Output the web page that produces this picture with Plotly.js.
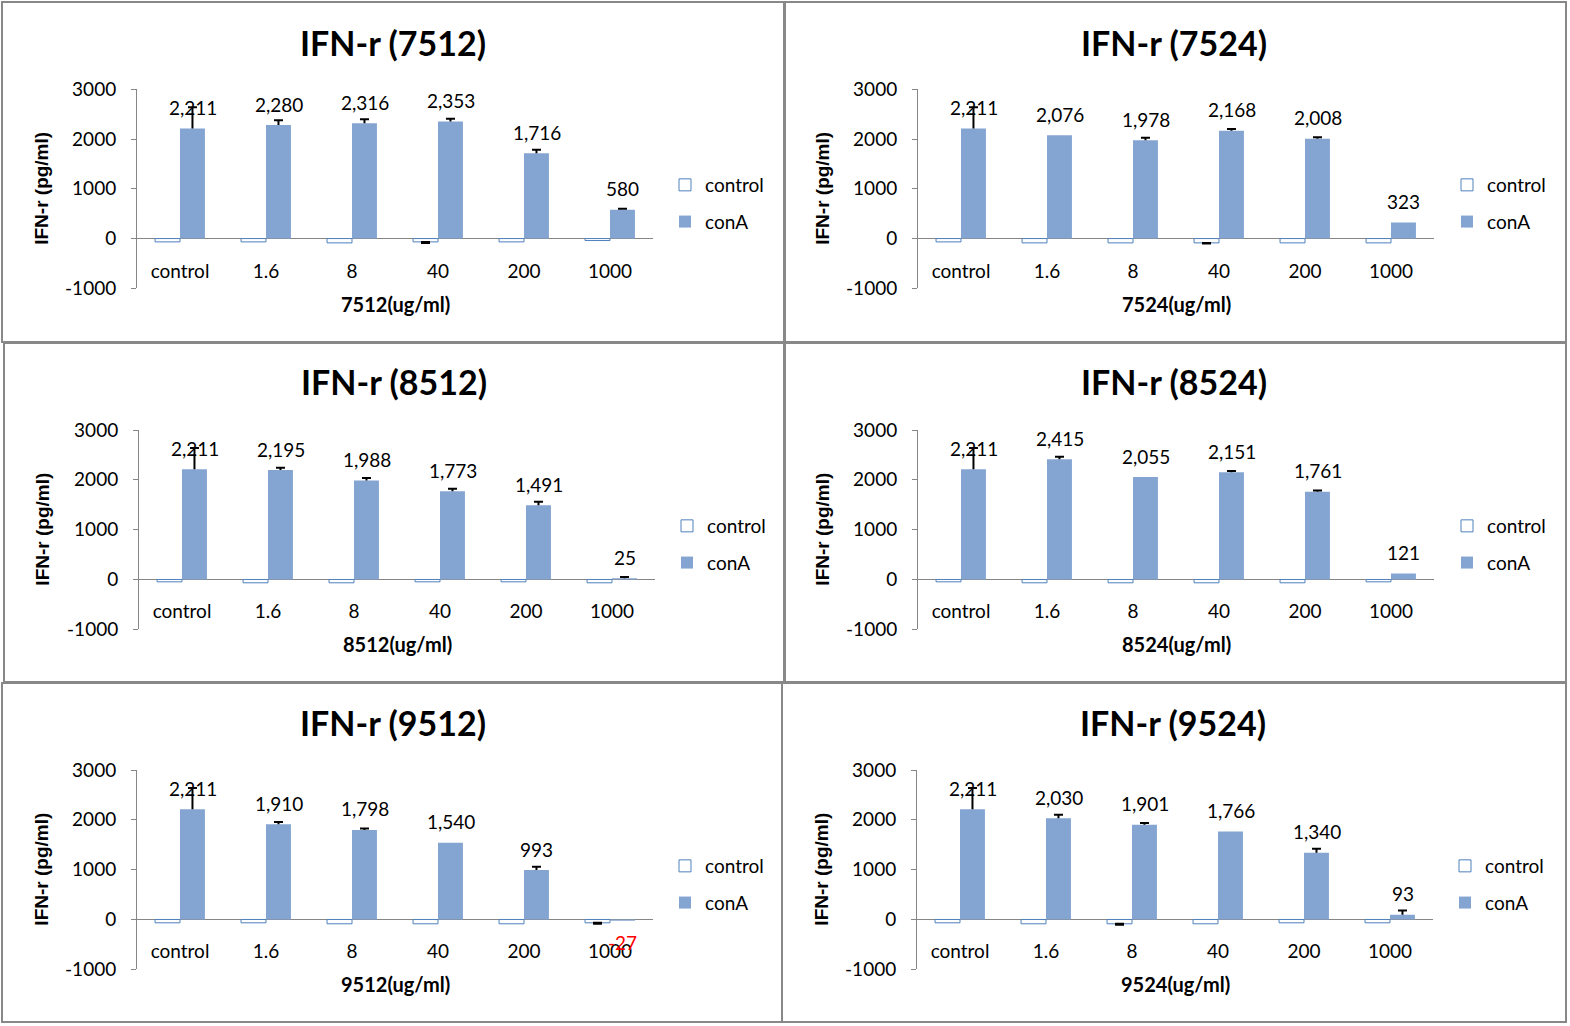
<!DOCTYPE html>
<html>
<head>
<meta charset="utf-8">
<script src="https://cdn.plot.ly/plotly-3.0.1.min.js"></script>
<style>
  html, body { margin: 0; padding: 0; background: #fff; }
  #chart { width: 1570px; height: 1026px; }
</style>
</head>
<body>
<div id="chart"></div>
<script>
// ---------------- DATA ----------------
const categories = ['control', '1.6', '8', '40', '200', '1000'];
const seriesNames = ['control', 'conA'];

const ctrl7512 = [-67, -67, -87, -67, -67, -40];
const ctrlErr7512 = [null, null, null, 20, null, null];
const conA7512 = [2211, 2280, 2316, 2353, 1716, 580];
const conAErr7512 = [427, 96, 80, 57, 68, 18];

const ctrl7524 = [-67, -87, -87, -87, -87, -87];
const ctrlErr7524 = [null, null, null, 15, null, null];
const conA7524 = [2211, 2076, 1978, 2168, 2008, 323];
const conAErr7524 = [427, null, 47, 33, 27, null];

const ctrl8512 = [-47, -67, -67, -47, -47, -67];
const ctrlErr8512 = [null, null, null, null, null, null];
const conA8512 = [2211, 2195, 1988, 1773, 1491, 25];
const conAErr8512 = [427, 47, 47, 47, 67, 27];

const ctrl8524 = [-47, -67, -67, -67, -67, -47];
const ctrlErr8524 = [null, null, null, null, null, null];
const conA8524 = [2211, 2415, 2055, 2151, 1761, 121];
const conAErr8524 = [427, 47, null, 27, 27, null];

const ctrl9512 = [-67, -67, -87, -87, -87, -67];
const ctrlErr9512 = [null, null, null, null, null, 20];
const conA9512 = [2211, 1910, 1798, 1540, 993, -27];
const conAErr9512 = [427, 47, 27, null, 67, null];

const ctrl9524 = [-67, -87, -87, -87, -67, -67];
const ctrlErr9524 = [null, null, 20, null, null, null];
const conA9524 = [2211, 2030, 1901, 1766, 1340, 93];
const conAErr9524 = [427, 73, 33, null, 80, 87];

const yTickVals = [-1000, 0, 1000, 2000, 3000];
const yTickText = ['-1000', '0', '1000', '2000', '3000'];

// ---------------- LAYOUT CONFIG ----------------
const W = 1570, H = 1026;
const px = p => p / W;
const py = p => 1 - p / H;

const FONT = 'Lato, Carlito, "Open Sans", sans-serif';
const BLUE_FILL = '#84A5D2';
const BLUE_LINE = '#4F81BD';
const GRAY = '#868686';

const panels = [
  { id: '7512', ctrl: ctrl7512, ctrlErr: ctrlErr7512, conA: conA7512, conAErr: conAErr7512,
    box: [2, 2, 784, 342], plotX: [137, 653], plotY: [89.3, 288.3], title: [393, 42], ytitleX: 42, xtitleY: 304, labelY: 272, legend: [665, 166] },
  { id: '7524', ctrl: ctrl7524, ctrlErr: ctrlErr7524, conA: conA7524, conAErr: conAErr7524,
    box: [785, 2, 1566, 342], plotX: [918, 1434], plotY: [89.3, 288.3], title: [1174, 42], ytitleX: 823, xtitleY: 304, labelY: 272, legend: [1447, 166] },
  { id: '8512', ctrl: ctrl8512, ctrlErr: ctrlErr8512, conA: conA8512, conAErr: conAErr8512,
    box: [4, 343, 784, 682], plotX: [139, 655], plotY: [430, 629.3], title: [394, 382], ytitleX: 43, xtitleY: 644, labelY: 612, legend: [667, 507] },
  { id: '8524', ctrl: ctrl8524, ctrlErr: ctrlErr8524, conA: conA8524, conAErr: conAErr8524,
    box: [785, 343, 1566, 682], plotX: [918, 1434], plotY: [430, 629.3], title: [1174, 382], ytitleX: 823, xtitleY: 644, labelY: 612, legend: [1447, 507] },
  { id: '9512', ctrl: ctrl9512, ctrlErr: ctrlErr9512, conA: conA9512, conAErr: conAErr9512,
    box: [2, 683, 782, 1022], plotX: [137, 653], plotY: [770, 969.3], title: [393, 722], ytitleX: 42, xtitleY: 984, labelY: 952, legend: [665, 847] },
  { id: '9524', ctrl: ctrl9524, ctrlErr: ctrlErr9524, conA: conA9524, conAErr: conAErr9524,
    box: [782, 683, 1566, 1022], plotX: [917, 1433], plotY: [770, 969.3], title: [1173, 722], ytitleX: 822, xtitleY: 984, labelY: 952, legend: [1445, 847] }
];

const toErr = arr => arr.map(v => (v === null ? NaN : v));
const fmt = v => (v < 0 ? '-' : '') + Math.abs(v).toString().replace(/\B(?=(\d{3})+(?!\d))/g, ',');

const traces = [];
const layout = {
  width: W, height: H,
  margin: { l: 0, r: 0, t: 0, b: 0, pad: 0 },
  paper_bgcolor: '#ffffff',
  plot_bgcolor: 'rgba(0,0,0,0)',
  barmode: 'group',
  bargap: 0.42,
  bargroupgap: 0,
  font: { family: FONT, size: 19, color: '#000' },
  shapes: [],
  annotations: []
};

panels.forEach((p, i) => {
  const n = i + 1;
  const sfx = n === 1 ? '' : String(n);
  const xa = 'x' + sfx, ya = 'y' + sfx;
  const lg = 'legend' + sfx;

  traces.push({
    type: 'bar', name: seriesNames[0], x: categories, y: p.ctrl,
    xaxis: xa, yaxis: ya, legend: lg, legendgroup: 'c' + n,
    marker: { color: '#ffffff', line: { color: BLUE_LINE, width: 1 } },
    error_y: { type: 'data', symmetric: false, array: p.ctrlErr.map(v => (v === null ? NaN : 0)), arrayminus: toErr(p.ctrlErr),
               color: '#000', thickness: 2, width: 4.5 },
    hoverinfo: 'skip'
  });
  traces.push({
    type: 'bar', name: seriesNames[1], x: categories, y: p.conA,
    xaxis: xa, yaxis: ya, legend: lg, legendgroup: 'a' + n,
    marker: { color: BLUE_FILL, line: { width: 0 } },
    error_y: { type: 'data', symmetric: false, array: toErr(p.conAErr),
               color: '#000', thickness: 2, width: 4.5 },
    hoverinfo: 'skip'
  });

  layout['xaxis' + sfx] = {
    domain: [px(p.plotX[0]), px(p.plotX[1])],
    type: 'category', range: [-0.5, 5.5],
    anchor: 'free', position: py(p.labelY - 14),
    showline: false, ticks: '', showgrid: false, zeroline: false,
    tickfont: { family: FONT, size: 19, color: '#000' },
    fixedrange: true
  };
  layout['yaxis' + sfx] = {
    domain: [py(p.plotY[1]), py(p.plotY[0])],
    anchor: xa, range: [-1000, 3000],
    tickmode: 'array', tickvals: yTickVals, ticktext: yTickText,
    showline: true, linecolor: GRAY, linewidth: 1,
    ticks: 'outside', ticklen: 5, tickcolor: GRAY, tickwidth: 1,
    showgrid: false, zeroline: true, zerolinecolor: GRAY, zerolinewidth: 1,
    tickfont: { family: FONT, size: 19, color: '#000' },
    ticklabelstandoff: 11,
    fixedrange: true
  };
  layout[lg] = {
    x: px(p.legend[0]), y: py(p.legend[1]), xanchor: 'left', yanchor: 'top',
    xref: 'paper', yref: 'paper',
    bgcolor: 'rgba(0,0,0,0)', borderwidth: 0,
    font: { family: FONT, size: 19, color: '#000' },
    traceorder: 'grouped', tracegroupgap: 9,
    itemclick: false, itemdoubleclick: false
  };

  // panel border
  layout.shapes.push({
    type: 'rect', xref: 'paper', yref: 'paper',
    x0: px(p.box[0]), x1: px(p.box[2]), y0: py(p.box[3]), y1: py(p.box[1]),
    line: { color: '#888888', width: 2 }, fillcolor: 'rgba(0,0,0,0)', layer: 'below'
  });

  // title
  layout.annotations.push({
    xref: 'paper', yref: 'paper', x: px(p.title[0]), y: py(p.title[1]),
    xanchor: 'center', yanchor: 'middle', showarrow: false,
    text: '<b>IFN-r (' + p.id + ')</b>',
    font: { family: FONT, size: 34, color: '#000' }
  });
  // y-axis title
  layout.annotations.push({
    xref: 'paper', yref: 'paper', x: px(p.ytitleX), y: py((p.plotY[0] + p.plotY[1]) / 2),
    xanchor: 'center', yanchor: 'middle', showarrow: false, textangle: -90,
    text: '<b>IFN-r (pg/ml)</b>',
    font: { family: '"Liberation Sans", Arial, sans-serif', size: 19, color: '#000' }
  });
  // x-axis title
  layout.annotations.push({
    xref: 'paper', yref: 'paper', x: px((p.plotX[0] + p.plotX[1]) / 2), y: py(p.xtitleY),
    xanchor: 'center', yanchor: 'middle', showarrow: false,
    text: '<b>' + p.id + '(ug/ml)</b>',
    font: { family: FONT, size: 20, color: '#000' }
  });
  // data labels for conA (category axis: x given as category index)
  p.conA.forEach((v, k) => {
    layout.annotations.push({
      xref: xa, yref: ya, x: k, y: v,
      xshift: 12.5, yshift: v < 0 ? -22 : 21,
      xanchor: 'center', yanchor: 'middle', showarrow: false,
      text: fmt(v),
      font: { family: FONT, size: 19, color: v < 0 ? '#FF0000' : '#000' }
    });
  });
});

Plotly.newPlot('chart', traces, layout, { staticPlot: true, displayModeBar: false }).then(gd => {
  // Excel draws only the plus cross-bar on conA error bars: drop the lower cap
  gd.querySelectorAll('g.trace.bars').forEach(g => {
    const cd = g.__data__;
    const tr = cd && cd[0] && cd[0].trace;
    if (!tr || tr.name !== 'conA') return;
    g.querySelectorAll('path.yerror').forEach(path => {
      const d = path.getAttribute('d') || '';
      path.setAttribute('d', d.replace(/m-[\d.]+,0h[\d.]+$/, ''));
    });
  });
});
</script>
</body>
</html>
